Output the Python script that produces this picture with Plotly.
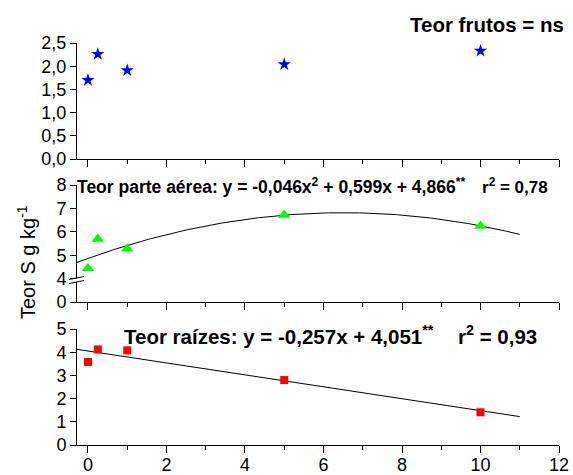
import numpy as np
import plotly.graph_objects as go

# ---- data ----
doses = [0, 0.25, 1, 5, 10]
teor_frutos = [1.70, 2.26, 1.91, 2.04, 2.33]
teor_parte_aerea = [4.44, 5.69, 5.28, 6.72, 6.25]
teor_raizes = [3.58, 4.12, 4.08, 2.80, 1.41]

# fitted equations shown in the chart
coef_aerea = [-0.046, 0.599, 4.866]   # a*x^2 + b*x + c
coef_raizes = [-0.257, 4.051]          # b*x + c
fit_range = [-0.28, 11]

x_ticks = [0, 2, 4, 6, 8, 10, 12]
x_minor = [1, 3, 5, 7, 9, 11]
top_ticks = [0, 0.5, 1.0, 1.5, 2.0, 2.5]
top_ticktext = ["0,0", "0,5", "1,0", "1,5", "2,0", "2,5"]
mid_tickvals = [3, 4, 5, 6, 7, 8]
mid_ticktext = ["0", "4", "5", "6", "7", "8"]
bot_ticks = [0, 1, 2, 3, 4, 5]

W, H = 573, 475
def px(x):
    return x / W
def py(y):
    return 1 - y / H

FONT = "Arial, Liberation Sans, sans-serif"

xf = np.linspace(fit_range[0], fit_range[1], 200)
yf_aerea = coef_aerea[0] * xf**2 + coef_aerea[1] * xf + coef_aerea[2]
yf_raizes = coef_raizes[0] * xf + coef_raizes[1]

fig = go.Figure()
fig.add_trace(go.Scatter(x=doses, y=teor_frutos, mode="markers", xaxis="x", yaxis="y",
                         marker=dict(symbol="star", size=10, color="#0000ff"), cliponaxis=False))
fig.add_trace(go.Scatter(x=xf, y=yf_aerea, mode="lines", xaxis="x2", yaxis="y2",
                         line=dict(color="black", width=1)))
fig.add_trace(go.Scatter(x=doses, y=teor_parte_aerea, mode="markers", xaxis="x2", yaxis="y2",
                         marker=dict(symbol="triangle-up", size=11, color="#00ff00"), cliponaxis=False))
fig.add_trace(go.Scatter(x=xf, y=yf_raizes, mode="lines", xaxis="x3", yaxis="y3",
                         line=dict(color="black", width=1)))
fig.add_trace(go.Scatter(x=doses, y=teor_raizes, mode="markers", xaxis="x3", yaxis="y3",
                         marker=dict(symbol="square", size=8, color="#ff0000"), cliponaxis=False))

xdom = [px(77), px(559)]
xr = [-0.28, 12]

def xaxis(anchor, labels):
    return dict(domain=xdom, range=xr, anchor=anchor, showline=True, linecolor="black", linewidth=1,
                ticks="outside", ticklen=7, tickcolor="black", tickvals=x_ticks,
                showticklabels=labels, showgrid=False, zeroline=False, ticklabelstandoff=-4,
                automargin=False,
                tickfont=dict(family=FONT, size=18, color="black"),
                minor=dict(tickvals=x_minor, ticks="outside", ticklen=4, tickcolor="black"))

def yaxis(anchor, dom, rng, tv, tt):
    return dict(domain=dom, range=rng, anchor=anchor, showline=True, linecolor="black", linewidth=1,
                ticks="outside", ticklen=6, tickcolor="black", tickvals=tv, ticktext=tt,
                showgrid=False, zeroline=False, automargin=False,
                tickfont=dict(family=FONT, size=18, color="black"))

fig.update_layout(
    width=W, height=H, margin=dict(l=0, r=0, t=0, b=0, autoexpand=False),
    paper_bgcolor="white", plot_bgcolor="white", showlegend=False,
    xaxis=xaxis("y", False),
    xaxis2=xaxis("y2", False),
    xaxis3=xaxis("y3", True),
    yaxis=yaxis("x", [py(159), py(43)], [0, 2.5], top_ticks, top_ticktext),
    yaxis2=yaxis("x2", [py(302), py(185)], [3, 8], mid_tickvals, mid_ticktext),
    yaxis3=yaxis("x3", [py(445), py(329)], [0, 5], bot_ticks, [str(t) for t in bot_ticks]),
)

# axis break marks
fig.add_shape(type="rect", xref="paper", yref="paper", x0=px(75), x1=px(79), y0=py(282), y1=py(278.5),
              fillcolor="white", line=dict(width=0))
for yy in [278, 282]:
    fig.add_shape(type="line", xref="paper", yref="paper", x0=px(69), x1=px(84),
                  y0=py(yy + 1.5), y1=py(yy - 1.5), line=dict(color="black", width=1))

def ann(text, x, y, size, bold=True, xanchor="left"):
    fig.add_annotation(text=(f"<b>{text}</b>" if bold else text), xref="paper", yref="paper",
                       x=px(x), y=py(y), xanchor=xanchor, yanchor="middle", showarrow=False,
                       font=dict(family=FONT, size=size, color="black"))

ann("Teor frutos = ns", 566, 25, 20.5, xanchor="right")
ann("Teor parte aérea: y = -0,046x<sup>2</sup> + 0,599x + 4,866<sup>**</sup>", 75, 186, 17.5)
ann("r<sup>2</sup> = 0,78", 480, 186, 17)
ann("Teor raízes: y = -0,257x + 4,051<sup>**</sup>", 122, 335, 20.5)
ann("r<sup>2</sup> = 0,93", 456, 335, 20.5)

fig.add_annotation(text="Teor S g kg<sup>-1</sup>", xref="paper", yref="paper", x=px(26), y=py(262),
                   textangle=-90, showarrow=False, xanchor="center", yanchor="middle",
                   font=dict(family=FONT, size=20, color="black"))

fig.write_html("out.html", config={"displayModeBar": False},
               post_script="document.body.style.margin='0px';")
